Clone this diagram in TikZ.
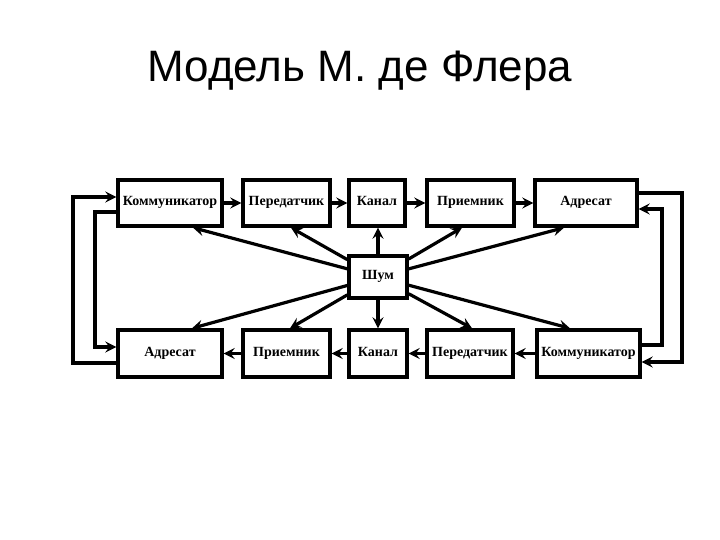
\documentclass[tikz,border=0pt]{standalone}
\usepackage{fontspec}
\setmainfont{Liberation Serif}
\newfontfamily\titlefont{Liberation Sans}
\usetikzlibrary{arrows.meta}
\tikzset{
  blk/.style={draw=black, line width=3.4pt, fill=white, inner sep=0pt,
    text height=1.5ex, text depth=.3ex,
    font=\fontsize{14}{17}\selectfont\bfseries},
  arr/.style={line width=3.2pt, -{Stealth[length=11pt,width=11pt,inset=4pt]}},
}
\begin{document}
\begin{tikzpicture}[x=1pt,y=-1pt]
\useasboundingbox (0,0) rectangle (720,540);
\node[anchor=base, font=\titlefont\fontsize{44}{48}\selectfont] (title) at (360,82) {Модель М. де Флера};
% top row
\node[blk, minimum width=104pt, minimum height=46pt] (k1) at (170,203) {Коммуникатор};
\node[blk, minimum width=87pt, minimum height=46pt] (p1) at (286.5,203) {Передатчик};
\node[blk, minimum width=56pt, minimum height=46pt] (c1) at (377,203) {Канал};
\node[blk, minimum width=87pt, minimum height=46pt] (r1) at (470.5,203) {Приемник};
\node[blk, minimum width=102pt, minimum height=46pt] (a1) at (586,203) {Адресат};
% noise
\node[blk, minimum width=58pt, minimum height=42pt] (sh) at (378,277) {Шум};
% bottom row
\node[blk, minimum width=104pt, minimum height=47pt] (a2) at (170,353.5) {Адресат};
\node[blk, minimum width=87pt, minimum height=47pt] (r2) at (286.5,353.5) {Приемник};
\node[blk, minimum width=58pt, minimum height=47pt] (c2) at (378,353.5) {Канал};
\node[blk, minimum width=86pt, minimum height=47pt] (p2) at (470,353.5) {Передатчик};
\node[blk, minimum width=103pt, minimum height=47pt] (k2) at (588.5,353.5) {Коммуникатор};
% row arrows
\draw[arr] (k1) -- (p1);
\draw[arr] (p1) -- (c1);
\draw[arr] (c1) -- (r1);
\draw[arr] (r1) -- (a1);
\draw[arr] (k2) -- (p2);
\draw[arr] (p2) -- (c2);
\draw[arr] (c2) -- (r2);
\draw[arr] (r2) -- (a2);
% noise arrows
\draw[arr] (sh) -- (k1.south -| 193,0);
\draw[arr] (sh) -- (p1.south -| 291,0);
\draw[arr] (sh) -- (c1.south -| 378,0);
\draw[arr] (sh) -- (r1.south -| 462,0);
\draw[arr] (sh) -- (a1.south -| 564,0);
\draw[arr] (sh) -- (a2.north -| 192,0);
\draw[arr] (sh) -- (r2.north -| 290,0);
\draw[arr] (sh) -- (c2.north -| 378,0);
\draw[arr] (sh) -- (p2.north -| 472,0);
\draw[arr] (sh) -- (k2.north -| 570,0);
% feedback loops
\draw[arr] (a2.west |- 0,363) -| (73,197) -- (k1.west |- 0,197);
\draw[arr] (k1.west |- 0,212) -| (95,347) -- (a2.west |- 0,347);
\draw[arr] (a1.east |- 0,193) -| (682,362) -- (k2.east |- 0,362);
\draw[arr] (k2.east |- 0,345) -| (662,209) -- (a1.east |- 0,209);
\end{tikzpicture}
\end{document}
